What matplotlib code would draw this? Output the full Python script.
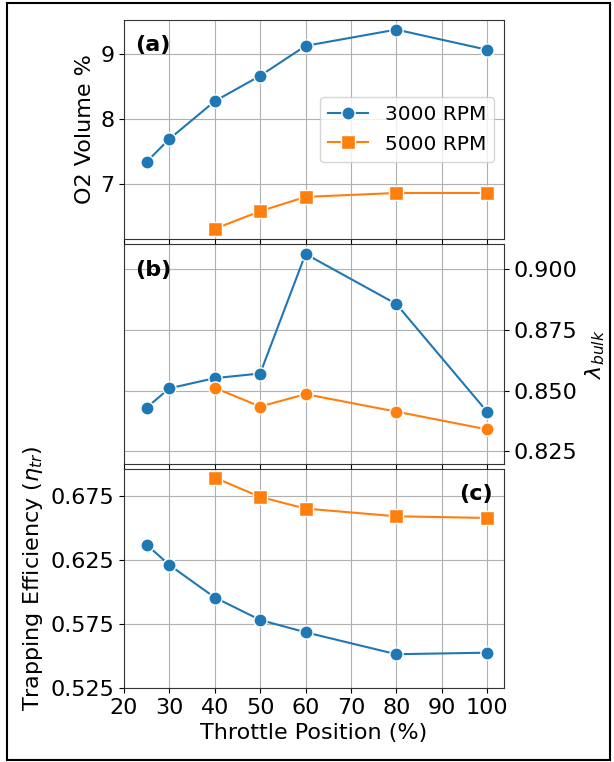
import matplotlib.pyplot as plt
from matplotlib.patches import Rectangle

# throttle positions for each engine speed
throttle_3000 = [25, 30, 40, 50, 60, 80, 100]
throttle_5000 = [40, 50, 60, 80, 100]

# O2 volume % in exhaust
o2_3000 = [7.34, 7.69, 8.27, 8.66, 9.12, 9.37, 9.06]
o2_5000 = [6.31, 6.58, 6.80, 6.86, 6.86]

# bulk lambda
lam_3000 = [0.8431, 0.8510, 0.8552, 0.8571, 0.9063, 0.8857, 0.8414]
lam_5000 = [0.8512, 0.8435, 0.8486, 0.8414, 0.8341]

# trapping efficiency
eta_3000 = [0.6367, 0.6209, 0.5956, 0.5781, 0.5685, 0.5514, 0.5526]
eta_5000 = [0.6890, 0.6740, 0.6649, 0.6589, 0.6576]

labels = ["3000 RPM", "5000 RPM"]
blue = "#1f77b4"
orange = "#ff7f0e"

plt.rcParams["font.size"] = 16

fig, (ax1, ax2, ax3) = plt.subplots(3, 1, sharex=True, figsize=(6.14, 7.62), dpi=100)
fig.subplots_adjust(left=0.202, right=0.821, top=0.974, bottom=0.097, hspace=0.023)

line_kw = dict(lw=1.5, markeredgecolor="white", markeredgewidth=1)

# (a) O2 volume
ax1.plot(throttle_3000, o2_3000, "o-", color=blue, ms=9.5, label=labels[0], **line_kw)
ax1.plot(throttle_5000, o2_5000, "s-", color=orange, ms=9.5, label=labels[1], **line_kw)
ax1.set_ylim(6.15, 9.52)
ax1.set_yticks([7, 8, 9])
ax1.set_ylabel("O2 Volume %")
ax1.legend(loc="center right", fontsize=14.5)
ax1.text(0.03, 0.93, "(a)", transform=ax1.transAxes, fontweight="bold", va="top", ha="left")

# (b) bulk lambda, axis on the right
ax2.plot(throttle_3000, lam_3000, "o-", color=blue, ms=9.5, **line_kw)
ax2.plot(throttle_5000, lam_5000, "o-", color=orange, ms=9.5, **line_kw)
ax2.set_ylim(0.820, 0.9103)
ax2.set_yticks([0.825, 0.850, 0.875, 0.900])
ax2.yaxis.tick_right()
ax2.yaxis.set_label_position("right")
ax2.set_ylabel(r"$\lambda_{bulk}$")
ax2.text(0.03, 0.93, "(b)", transform=ax2.transAxes, fontweight="bold", va="top", ha="left")

# (c) trapping efficiency
ax3.plot(throttle_3000, eta_3000, "o-", color=blue, ms=9.5, **line_kw)
ax3.plot(throttle_5000, eta_5000, "s-", color=orange, ms=9.5, **line_kw)
ax3.set_ylim(0.525, 0.696)
ax3.set_yticks([0.525, 0.575, 0.625, 0.675])
ax3.set_ylabel(r"Trapping Efficiency ($\eta_{tr}$)")
ax3.set_xlabel("Throttle Position (%)")
ax3.text(0.97, 0.93, "(c)", transform=ax3.transAxes, fontweight="bold", va="top", ha="right")

ax3.set_xlim(20, 103.75)
ax3.set_xticks(range(20, 101, 10))

for ax in (ax1, ax2, ax3):
    ax.grid(True, color="#b0b0b0", lw=0.8)
    ax.set_axisbelow(True)
    for s in ax.spines.values():
        s.set_color("#333333")

# frame around the whole figure
fig.patches.append(Rectangle((0.012, 0.002), 0.982, 0.994, transform=fig.transFigure,
                             fill=False, edgecolor="black", lw=1.5))

fig.savefig("out.png", dpi=100)
